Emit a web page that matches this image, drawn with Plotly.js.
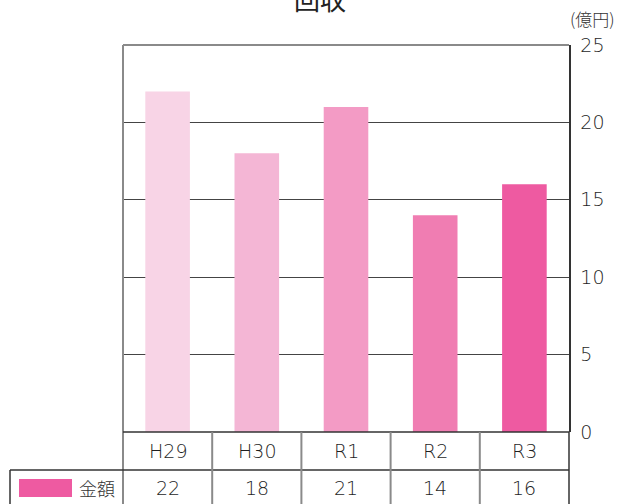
<!DOCTYPE html>
<html>
<head>
<meta charset="utf-8">
<script src="https://cdn.plot.ly/plotly-3.0.1.min.js"></script>
<style>
  html, body { margin: 0; padding: 0; background: #fff; }
  #chart { width: 620px; height: 504px; }
</style>
</head>
<body>
<div id="chart"></div>
<script>
// 回収金額（億円）
const categories = ['H29', 'H30', 'R1', 'R2', 'R3'];
const amounts = [22, 18, 21, 14, 16];
const barColors = ['#f8d4e6', '#f4b6d5', '#f39bc5', '#f07db2', '#ee5aa1'];
const seriesName = '金額';
const unitLabel = '(億円)';
const chartTitle = '回収';

const W = 620, H = 504;
const M = { l: 123, r: 51, t: 45, b: 72 };
const plotW = W - M.l - M.r;
const plotH = H - M.t - M.b;
// pixel -> paper helpers for the table grid under the plot
const px = v => (v - M.l) / plotW;
const py = v => (H - M.b - v) / plotH;

const FONT = '"DejaVu Sans", "Noto Sans CJK JP", sans-serif';
const CJK = '"Noto Sans CJK JP", sans-serif';
const TXT = '#1e1e1e';
const DARK = '#333333';
const GREY = '#8a8a8a';

const headerY = py(451);
const valueY = py(488);
const rowLine = py(470);
const tableBottom = py(504);

const annotations = [];
categories.forEach((c, i) => {
  annotations.push({
    x: c, xref: 'x', y: headerY, yref: 'paper', text: c, showarrow: false,
    xanchor: 'center', yanchor: 'middle',
    font: { family: FONT, size: 19, color: TXT, weight: 300 }
  });
  annotations.push({
    x: c, xref: 'x', y: valueY, yref: 'paper', text: String(amounts[i]), showarrow: false,
    xanchor: 'center', yanchor: 'middle',
    font: { family: FONT, size: 19, color: TXT, weight: 300 }
  });
});
annotations.push({
  x: px(77), xref: 'paper', y: valueY, yref: 'paper', text: seriesName, showarrow: false,
  xanchor: 'left', yanchor: 'middle',
  font: { family: CJK, size: 18, color: '#333', weight: 300 }
});
annotations.push({
  x: px(592), xref: 'paper', y: py(19), yref: 'paper', text: unitLabel, showarrow: false,
  xanchor: 'center', yanchor: 'middle',
  font: { family: CJK, size: 17, color: '#333', weight: 300 }
});

const shapes = [
  // frame: top and left in grey
  { type: 'line', xref: 'paper', yref: 'paper', x0: 0, x1: 1, y0: 1, y1: 1, line: { color: GREY, width: 2 } },
  { type: 'line', xref: 'paper', yref: 'paper', x0: 0, x1: 0, y0: 1, y1: tableBottom, line: { color: GREY, width: 2 } },
  // table horizontal rules
  { type: 'line', xref: 'paper', yref: 'paper', x0: 0, x1: 1, y0: 0, y1: 0, line: { color: DARK, width: 1.5 } },
  { type: 'line', xref: 'paper', yref: 'paper', x0: px(10), x1: 1, y0: rowLine, y1: rowLine, line: { color: DARK, width: 1.5 } },
  // table outer verticals
  { type: 'line', xref: 'paper', yref: 'paper', x0: 1, x1: 1, y0: 0, y1: tableBottom, line: { color: DARK, width: 1.5 } },
  { type: 'line', xref: 'paper', yref: 'paper', x0: px(10), x1: px(10), y0: rowLine, y1: tableBottom, line: { color: DARK, width: 1.5 } },
  // legend swatch
  { type: 'rect', xref: 'paper', yref: 'paper', x0: px(19), x1: px(72), y0: py(479), y1: py(497),
    fillcolor: barColors[barColors.length - 1], line: { width: 0 } }
];
// separators between category columns
for (let i = 0; i < categories.length - 1; i++) {
  shapes.push({ type: 'line', xref: 'x', yref: 'paper', x0: i + 0.5, x1: i + 0.5, y0: 0, y1: tableBottom,
    line: { color: GREY, width: 2 } });
}

const trace = {
  type: 'bar', x: categories, y: amounts, name: seriesName,
  marker: { color: barColors, line: { width: 0 } },
  hoverinfo: 'skip'
};

const layout = {
  width: W, height: H,
  margin: M,
  paper_bgcolor: '#ffffff', plot_bgcolor: '#ffffff',
  showlegend: false,
  bargap: 0.5,
  title: {
    text: chartTitle, x: 0.516, xanchor: 'center', y: 1 - 1 / H, yanchor: 'middle', yref: 'container',
    font: { family: CJK, size: 26, color: '#222', weight: 400 }
  },
  xaxis: {
    type: 'category', range: [-0.5, categories.length - 0.5],
    showticklabels: false, showgrid: false, zeroline: false, showline: false, ticks: ''
  },
  yaxis: {
    side: 'right', range: [0, 25], dtick: 5, tick0: 0,
    showgrid: true, gridcolor: '#444', gridwidth: 1,
    zeroline: false, showline: true, linecolor: DARK, linewidth: 1.5,
    ticks: '', ticklabelstandoff: 6,
    tickfont: { family: FONT, size: 19, color: TXT, weight: 300 }
  },
  shapes: shapes,
  annotations: annotations
};

Plotly.newPlot('chart', [trace], layout, { staticPlot: true, displayModeBar: false });
</script>
</body>
</html>
